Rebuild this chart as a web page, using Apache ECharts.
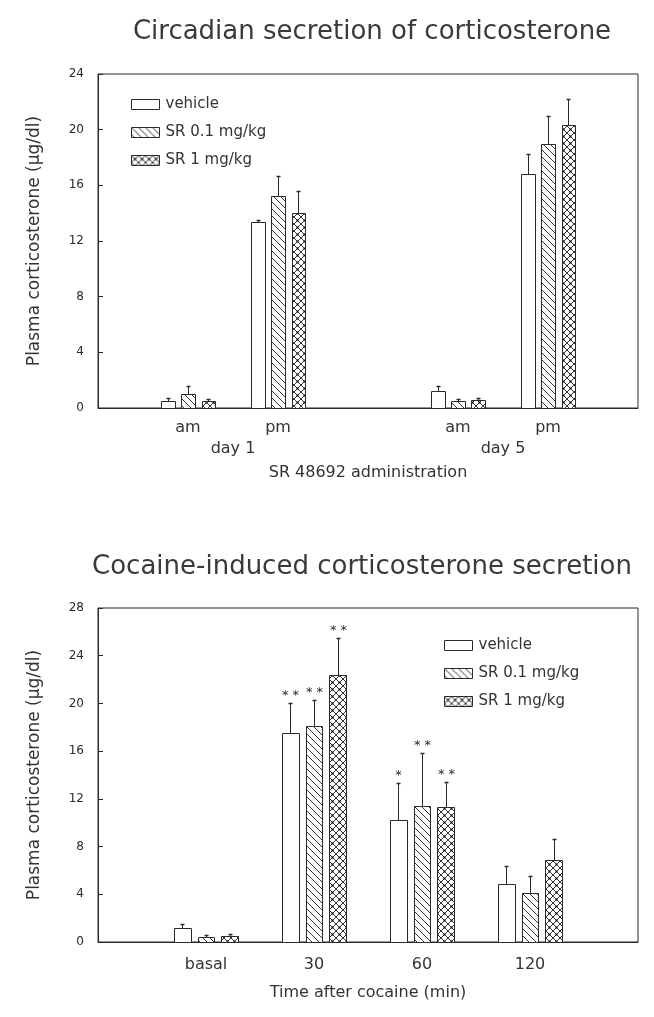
<!DOCTYPE html>
<html lang="en">
<head>
    <meta charset="UTF-8">
    <title>Corticosterone</title>
    <script src="https://cdn.jsdelivr.net/npm/echarts@6/dist/echarts.min.js"></script>
    <style>
        body { margin: 0; background: #fff; }
    </style>
</head>
<body>

<div id="wrap" style="width: 654px; height: 1017px;"></div>

<script>
    // ---- data: circadian (top) ----
    var circadianPos = [1, 2, 4, 5];
    var circadianLabels = ['am', 'pm', 'am', 'pm'];
    var dayPos = [1.5, 4.5];
    var dayLabels = ['day 1', 'day 5'];
    var circVehicle = [0.53, 13.4, 1.2, 16.8];
    var circVehicleErr = [0.17, 0.1, 0.36, 1.45];
    var circSr01 = [1.0, 15.2, 0.48, 18.95];
    var circSr01Err = [0.6, 1.5, 0.15, 2.05];
    var circSr1 = [0.53, 14.0, 0.55, 20.3];
    var circSr1Err = [0.15, 1.6, 0.17, 1.9];

    // ---- data: cocaine (bottom) ----
    var cocainePos = [1, 2, 3, 4];
    var cocaineLabels = ['basal', '30', '60', '120'];
    var cocVehicle = [1.15, 17.5, 10.25, 4.9];
    var cocVehicleErr = [0.35, 2.5, 3.05, 1.5];
    var cocVehicleStars = ['', '**', '*', ''];
    var cocSr01 = [0.45, 18.1, 11.4, 4.1];
    var cocSr01Err = [0.12, 2.2, 4.45, 1.4];
    var cocSr01Stars = ['', '**', '**', ''];
    var cocSr1 = [0.53, 22.4, 11.35, 6.9];
    var cocSr1Err = [0.17, 3.1, 2.1, 1.7];
    var cocSr1Stars = ['', '**', '**', ''];

    var seriesNames = ['vehicle', 'SR 0.1 mg/kg', 'SR 1 mg/kg'];
    var yTicksTop = [0, 4, 8, 12, 16, 20, 24];
    var yTicksBottom = [0, 4, 8, 12, 16, 20, 24, 28];

    var FONT = '"DejaVu Sans", sans-serif';
    var INK = '#2a2a2a';

    // hatch patterns drawn on small canvases
    function hatchCanvas(type) {
        var s = 7;
        var c = document.createElement('canvas');
        c.width = s; c.height = s;
        var g = c.getContext('2d');
        g.fillStyle = '#fff';
        g.fillRect(0, 0, s, s);
        g.strokeStyle = '#333';
        g.lineWidth = 1;
        g.beginPath();
        g.moveTo(-1, -1); g.lineTo(s + 1, s + 1);
        g.moveTo(-1, s - 1); g.lineTo(1, s + 1);
        g.moveTo(s - 1, -1); g.lineTo(s + 1, 1);
        if (type === 'cross') {
            g.moveTo(s + 1, -1); g.lineTo(-1, s + 1);
            g.moveTo(1, -1); g.lineTo(-1, 1);
            g.moveTo(s + 1, s - 1); g.lineTo(s - 1, s + 1);
        }
        g.stroke();
        if (type === 'cross') {
            g.fillStyle = '#111';
            g.fillRect(s / 2 - 1, s / 2 - 1, 2, 2);
        }
        return c;
    }
    var fills = [
        '#ffffff',
        {image: hatchCanvas('diag'), repeat: 'repeat'},
        {image: hatchCanvas('cross'), repeat: 'repeat'}
    ];

    function makeRender(k, offsetU, widthU, stars) {
        return function (params, api) {
            var pos = api.value(0) + (k - 1) * offsetU;
            var val = api.value(1);
            var err = api.value(2);
            var base = api.coord([pos, 0]);
            var top = api.coord([pos, val]);
            var cap = api.coord([pos, val + err]);
            var w = api.size([widthU, 0])[0];
            var x0 = Math.round(base[0] - w / 2) + 0.5;
            var x1 = Math.round(base[0] + w / 2) + 0.5;
            var cx = Math.round(base[0]) + 0.5;
            var yb = Math.round(base[1]) + 0.5;
            var yt = Math.round(top[1]) + 0.5;
            var yc = Math.round(cap[1]) + 0.5;
            var children = [{
                type: 'rect',
                shape: {x: x0, y: yt, width: x1 - x0, height: yb - yt},
                style: {fill: fills[k], stroke: INK, lineWidth: 1}
            }, {
                type: 'line',
                shape: {x1: cx, y1: yt, x2: cx, y2: yc},
                style: {stroke: INK, lineWidth: 1}
            }, {
                type: 'line',
                shape: {x1: cx - 2, y1: yc, x2: cx + 2, y2: yc},
                style: {stroke: INK, lineWidth: 1.5}
            }];
            var star = stars ? stars[params.dataIndex] : '';
            if (star) {
                children.push({
                    type: 'text',
                    style: {
                        text: star.split('').join(' '),
                        x: cx, y: yc - 1,
                        align: 'center', verticalAlign: 'bottom',
                        font: '13px ' + FONT, fill: INK
                    }
                });
            }
            return {type: 'group', children: children};
        };
    }

    function rows(pos, vals, errs) {
        return pos.map(function (p, i) { return [p, vals[i], errs[i]]; });
    }

    function labelFrom(posArr, labels) {
        return function (v) {
            for (var i = 0; i < posArr.length; i++) {
                if (Math.abs(posArr[i] - v) < 1e-6) return labels[i];
            }
            return '';
        };
    }

    var topData = [
        rows(circadianPos, circVehicle, circVehicleErr),
        rows(circadianPos, circSr01, circSr01Err),
        rows(circadianPos, circSr1, circSr1Err)
    ];
    var botData = [
        rows(cocainePos, cocVehicle, cocVehicleErr),
        rows(cocainePos, cocSr01, cocSr01Err),
        rows(cocainePos, cocSr1, cocSr1Err)
    ];
    var botStars = [cocVehicleStars, cocSr01Stars, cocSr1Stars];

    var series = [];
    for (var k = 0; k < 3; k++) {
        series.push({
            name: seriesNames[k],
            type: 'custom',
            xAxisIndex: 0, yAxisIndex: 0,
            renderItem: makeRender(k, 0.225, 0.15, null),
            itemStyle: {color: fills[k], borderColor: INK, borderWidth: 1},
            encode: {x: 0, y: 1},
            data: topData[k]
        });
    }
    for (k = 0; k < 3; k++) {
        series.push({
            name: seriesNames[k],
            type: 'custom',
            xAxisIndex: 2, yAxisIndex: 1,
            renderItem: makeRender(k, 0.222, 0.157, botStars[k]),
            itemStyle: {color: fills[k], borderColor: INK, borderWidth: 1},
            encode: {x: 0, y: 1},
            data: botData[k]
        });
    }

    function makeYAxis(gridIndex, max, ticks) {
        return {
            type: 'value',
            gridIndex: gridIndex,
            min: 0,
            max: max,
            interval: 4,
            name: 'Plasma corticosterone (\u03bcg/dl)',
            nameLocation: 'middle',
            nameGap: 55,
            nameTextStyle: {fontFamily: FONT, fontSize: 17, color: '#333'},
            axisLine: {show: true, lineStyle: {color: INK, width: 1}},
            axisTick: {show: true, inside: true, length: 5, lineStyle: {color: INK}},
            axisLabel: {
                fontFamily: FONT, fontSize: 12, color: INK, margin: 14,
                formatter: function (v) { return ticks.indexOf(v) >= 0 ? String(v) : ''; }
            },
            splitLine: {show: false}
        };
    }

    var legendCommon = {
        orient: 'vertical',
        icon: 'rect',
        itemWidth: 28,
        itemHeight: 10,
        itemStyle: {borderColor: INK, borderWidth: 1},
        textStyle: {fontFamily: FONT, fontSize: 15, color: '#333', padding: [0, 0, 0, 1]},
        selectedMode: false
    };

    var wrap_obj = document.getElementById('wrap');
    var myChart = echarts.init(wrap_obj);

    var option = {
        animation: false,
        title: [{
            text: 'Circadian secretion of corticosterone',
            left: 367, top: 14, textAlign: 'center',
            textStyle: {fontFamily: FONT, fontSize: 26, fontWeight: 'normal', color: '#3a3a3a'}
        }, {
            text: 'Cocaine-induced corticosterone secretion',
            left: 357, top: 549, textAlign: 'center',
            textStyle: {fontFamily: FONT, fontSize: 26, fontWeight: 'normal', color: '#3a3a3a'}
        }],
        legend: [
            Object.assign({left: 126, top: 92, itemGap: 13, data: seriesNames}, legendCommon),
            Object.assign({left: 439, top: 633, itemGap: 13, data: seriesNames}, legendCommon)
        ],
        grid: [
            {left: 98, right: 16, top: 74, height: 334, show: true, borderColor: INK, borderWidth: 1},
            {left: 98, right: 16, top: 608, height: 334, show: true, borderColor: INK, borderWidth: 1}
        ],
        xAxis: [{
            type: 'value', gridIndex: 0, min: 0, max: 6, interval: 1,
            name: 'SR 48692 administration',
            nameLocation: 'middle', nameGap: 57,
            nameTextStyle: {fontFamily: FONT, fontSize: 16, color: '#333'},
            axisLine: {show: true, lineStyle: {color: INK}},
            axisTick: {show: false},
            splitLine: {show: false},
            axisLabel: {fontFamily: FONT, fontSize: 16, color: '#333', margin: 12,
                formatter: labelFrom(circadianPos, circadianLabels)}
        }, {
            type: 'value', gridIndex: 0, min: 0, max: 6, interval: 1.5,
            position: 'bottom', offset: 21,
            axisLine: {show: false},
            axisTick: {show: false},
            splitLine: {show: false},
            axisLabel: {fontFamily: FONT, fontSize: 16, color: '#333', margin: 12,
                formatter: labelFrom(dayPos, dayLabels)}
        }, {
            type: 'value', gridIndex: 1, min: 0, max: 5, interval: 1,
            name: 'Time after cocaine (min)',
            nameLocation: 'middle', nameGap: 43,
            nameTextStyle: {fontFamily: FONT, fontSize: 16, color: '#333'},
            axisLine: {show: true, lineStyle: {color: INK}},
            axisTick: {show: false},
            splitLine: {show: false},
            axisLabel: {fontFamily: FONT, fontSize: 16, color: '#333', margin: 15,
                formatter: labelFrom(cocainePos, cocaineLabels)}
        }],
        yAxis: [
            makeYAxis(0, 24, yTicksTop),
            makeYAxis(1, 28, yTicksBottom)
        ],
        series: series
    };

    myChart.setOption(option);
</script>
</body>
</html>
